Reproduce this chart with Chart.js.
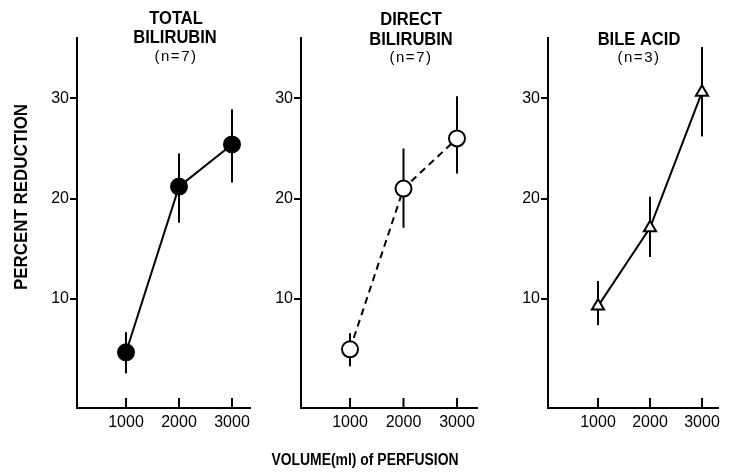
<!DOCTYPE html>
<html>
<head>
<meta charset="utf-8">
<script src="https://cdn.jsdelivr.net/npm/chart.js@4.4.1/dist/chart.umd.min.js"></script>
<style>
  html, body { margin: 0; padding: 0; background: #fff; }
  #wrap { position: relative; width: 729px; height: 473px; }
  #wrap canvas { position: absolute; left: 0; top: 0; }
</style>
</head>
<body>
<div id="wrap">
  <canvas id="c1" width="729" height="473"></canvas>
  <canvas id="c2" width="729" height="473"></canvas>
  <canvas id="c3" width="729" height="473"></canvas>
</div>
<script>
// data
const volumes = [1000, 2000, 3000];
const yTicks = [10, 20, 30];

const totalMean = [4.7, 21.2, 25.4];
const totalLow  = [2.6, 17.6, 21.6];
const totalHigh = [6.7, 24.5, 28.9];

const directMean = [5.0, 21.0, 26.0];
const directLow  = [3.3, 17.1, 22.5];
const directHigh = [6.6, 25.0, 30.2];

const bileMean = [9.3, 17.1, 30.6];
const bileLow  = [7.4, 14.2, 26.2];
const bileHigh = [11.8, 20.2, 35.1];

const FONT = "'Liberation Sans', Arial, Helvetica, sans-serif";

function panelPlugin(low, high, texts) {
    return {
        id: "panelExtras",
        beforeDatasetsDraw(chart) {
            const ctx = chart.ctx;
            const xs = chart.scales.x, ys = chart.scales.y;
            ctx.save();
            ctx.strokeStyle = "#000";
            ctx.lineWidth = 2;
            // error bars
            volumes.forEach((v, i) => {
                const px = xs.getPixelForValue(v);
                ctx.beginPath();
                ctx.moveTo(px, ys.getPixelForValue(low[i]));
                ctx.lineTo(px, ys.getPixelForValue(high[i]));
                ctx.stroke();
            });
            // x tick marks point up into the plot
            volumes.forEach(v => {
                const px = xs.getPixelForValue(v);
                ctx.beginPath();
                ctx.moveTo(px, chart.chartArea.bottom);
                ctx.lineTo(px, chart.chartArea.bottom - 10);
                ctx.stroke();
            });
            ctx.restore();
        },
        afterDraw(chart) {
            const ctx = chart.ctx;
            ctx.save();
            ctx.fillStyle = "#000";
            ctx.textAlign = "center";
            ctx.textBaseline = "middle";
            texts.forEach(t => {
                ctx.save();
                ctx.font = (t.bold ? "bold " : "") + t.size + "px " + FONT;
                ctx.letterSpacing = (t.spacing || 0) + "px";
                ctx.translate(t.x, t.y);
                if (t.rot) ctx.rotate(t.rot);
                ctx.scale(t.sx || 1, 1);
                ctx.fillText(t.text, 0, 0);
                ctx.restore();
            });
            ctx.restore();
        }
    };
}

function makePanel(id, mean, low, high, style, box, texts) {
    const ctx = document.getElementById(id).getContext("2d");
    new Chart(ctx, {
        type: "line",
        data: {
            datasets: [{
                data: volumes.map((v, i) => ({ x: v, y: mean[i] })),
                borderColor: "#000",
                borderWidth: 2,
                borderDash: style.dash,
                tension: 0,
                pointStyle: style.point,
                pointRadius: style.radius,
                pointBackgroundColor: style.fill,
                pointBorderColor: "#000",
                pointBorderWidth: 2
            }]
        },
        options: {
            responsive: false,
            animation: false,
            events: [],
            layout: { padding: { left: box.left - 40, right: 729 - box.right, top: 38, bottom: 0 } },
            plugins: { legend: { display: false }, tooltip: { enabled: false } },
            scales: {
                x: {
                    type: "linear",
                    min: box.xmin,
                    max: box.xmax,
                    afterBuildTicks: s => { s.ticks = volumes.map(v => ({ value: v })); },
                    afterFit: s => { s.height = 65; },
                    grid: { display: false, drawTicks: false },
                    border: { display: true, width: 2, color: "#000" },
                    ticks: {
                        color: "#000",
                        padding: 5,
                        font: { family: FONT, size: 16 },
                        callback: v => String(v)
                    }
                },
                y: {
                    type: "linear",
                    min: -0.85,
                    max: 36,
                    afterBuildTicks: s => { s.ticks = yTicks.map(v => ({ value: v })); },
                    afterFit: s => { s.width = 40; },
                    grid: { display: true, drawOnChartArea: false, drawTicks: true, tickLength: 7, lineWidth: 2, color: "#000" },
                    border: { display: true, width: 2, color: "#000" },
                    ticks: { color: "#000", padding: 1, font: { family: FONT, size: 16 } }
                }
            }
        },
        plugins: [panelPlugin(low, high, texts)]
    });
}

makePanel("c1", totalMean, totalLow, totalHigh,
    { dash: [], point: "circle", radius: 8, fill: "#000" },
    { left: 77, right: 250, xmin: 75, xmax: 3340 },
    [
        { text: "TOTAL", x: 176, y: 19, size: 19, bold: true, sx: 0.87 },
        { text: "BILIRUBIN", x: 175, y: 38, size: 19, bold: true, sx: 0.87 },
        { text: "(n=7)", x: 176, y: 57, size: 15, spacing: 1.5 },
        { text: "PERCENT REDUCTION", x: 22, y: 197, size: 18, bold: true, sx: 0.94, rot: -Math.PI / 2 }
    ]);

makePanel("c2", directMean, directLow, directHigh,
    { dash: [7, 5], point: "circle", radius: 8, fill: "#fff" },
    { left: 301, right: 477, xmin: 84, xmax: 3374 },
    [
        { text: "DIRECT", x: 411, y: 20, size: 19, bold: true, sx: 0.87 },
        { text: "BILIRUBIN", x: 411, y: 40, size: 19, bold: true, sx: 0.87 },
        { text: "(n=7)", x: 411, y: 58, size: 15, spacing: 1.5 },
        { text: "VOLUME(ml) of PERFUSION", x: 365, y: 461, size: 16, bold: true, sx: 0.87 }
    ]);

makePanel("c3", bileMean, bileLow, bileHigh,
    { dash: [], point: "triangle", radius: 7, fill: "#fff" },
    { left: 548, right: 718, xmin: 38, xmax: 3308 },
    [
        { text: "BILE ACID", x: 639, y: 40, size: 19, bold: true, sx: 0.87 },
        { text: "(n=3)", x: 639, y: 58, size: 15, spacing: 1.5 }
    ]);
</script>
</body>
</html>
